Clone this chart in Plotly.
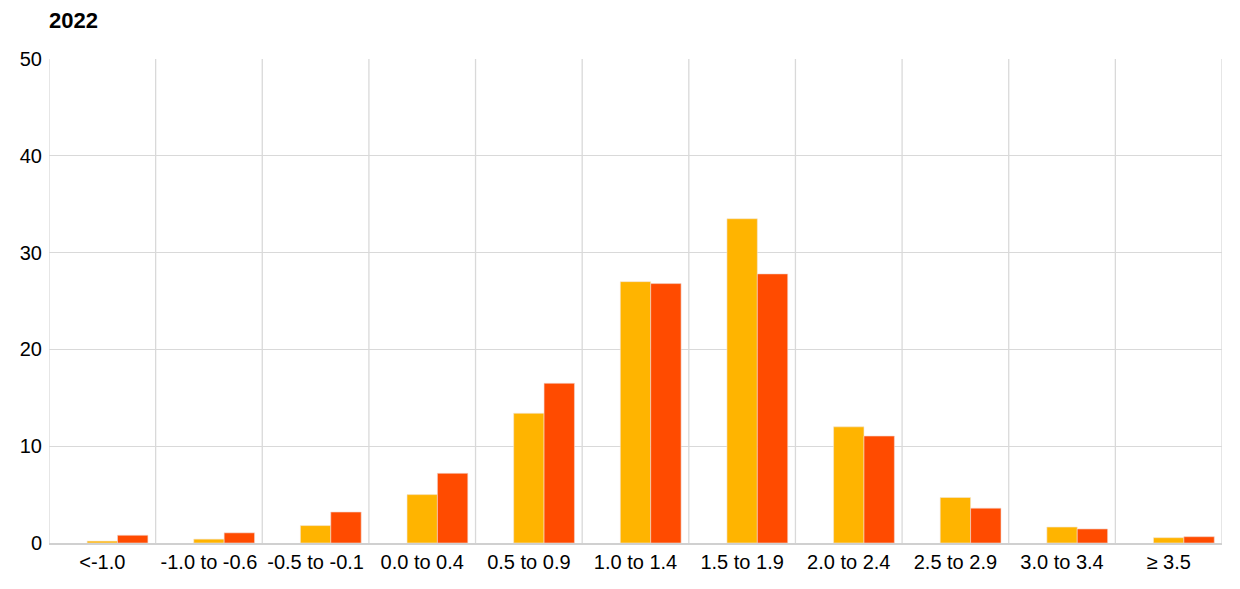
import plotly.graph_objects as go

categories = ["<-1.0", "-1.0 to -0.6", "-0.5 to -0.1", "0.0 to 0.4", "0.5 to 0.9",
              "1.0 to 1.4", "1.5 to 1.9", "2.0 to 2.4", "2.5 to 2.9", "3.0 to 3.4", "≥ 3.5"]
series_a = [0.2, 0.4, 1.8, 5.0, 13.4, 27.0, 33.5, 12.0, 4.7, 1.65, 0.55]
series_b = [0.8, 1.05, 3.2, 7.2, 16.5, 26.8, 27.8, 11.05, 3.6, 1.45, 0.65]
empty_series = [None] * len(categories)

FONT = "Liberation Sans, Arial, sans-serif"

fig = go.Figure()
fig.add_trace(go.Bar(x=categories, y=empty_series, showlegend=False, hoverinfo="skip",
                     marker_color="rgba(0,0,0,0)"))
fig.add_trace(go.Bar(x=categories, y=series_a, showlegend=False,
                     marker=dict(color="#FFB400", line=dict(color="#f2e6d6", width=0.6))))
fig.add_trace(go.Bar(x=categories, y=series_b, showlegend=False,
                     marker=dict(color="#FF4B00", line=dict(color="#f2d6d0", width=0.6))))

shapes = []
for i in range(len(categories) + 1):
    shapes.append(dict(type="line", xref="x", yref="y", x0=i - 0.5, x1=i - 0.5, y0=0, y1=50,
                       line=dict(color="#d9d9d9", width=1.3), layer="below"))

fig.update_layout(
    width=1232, height=581,
    margin=dict(l=36, r=18, t=51, b=46),
    paper_bgcolor="white", plot_bgcolor="white",
    barmode="group", bargap=0.145, bargroupgap=0,
    font=dict(family=FONT, size=20, color="#000000"),
    shapes=shapes,
    annotations=[dict(text="<b>2022</b>", xref="paper", yref="paper", x=0, y=1,
                      xanchor="left", yanchor="bottom", xshift=-2, yshift=24, showarrow=False,
                      font=dict(family=FONT, size=22, color="#000000"))],
    xaxis=dict(type="category", range=[-0.5, len(categories) - 0.5], showgrid=False,
               showline=True, linecolor="#d0d0d0", linewidth=2, ticks="",
               tickfont=dict(size=20), ticklen=0, fixedrange=True),
    yaxis=dict(range=[0, 50], dtick=10, showgrid=True, gridcolor="#d9d9d9", gridwidth=1.3,
               zeroline=False, showline=False, ticks="", tickfont=dict(size=20),
               ticklabelstandoff=6),
)

fig.write_html("out.html")
